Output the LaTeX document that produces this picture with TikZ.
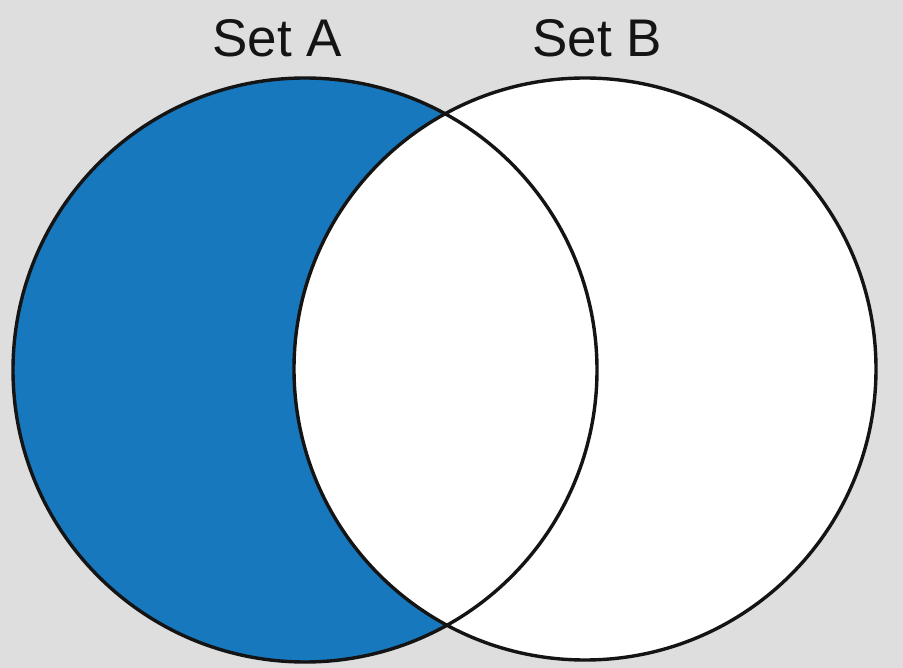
\documentclass[tikz,border=0pt]{standalone}
\usepackage{fontspec}
\setmainfont{Liberation Sans}
\definecolor{bg}{HTML}{DEDEDE}
\definecolor{setblue}{HTML}{1878BE}
\begin{document}
\begin{tikzpicture}[x=1pt,y=-1pt,
  outline/.style={draw=black!92,line width=3.4pt},
  lbl/.style={font=\fontsize{53}{57}\selectfont,text=black!92,anchor=base}]
\fill[bg] (0,0) rectangle (903,668);
\useasboundingbox (0,0) rectangle (903,668);
\coordinate (ca) at (305,370);
\coordinate (cb) at (585,369);
\fill[setblue] (ca) circle[radius=292];
\fill[white] (cb) circle[radius=291];
\draw[outline] (ca) circle[radius=292];
\draw[outline] (cb) circle[radius=291];
\node[lbl] (la) at (277,57) {Set A};
\node[lbl] (lb) at (597,57) {Set B};
\end{tikzpicture}
\end{document}
